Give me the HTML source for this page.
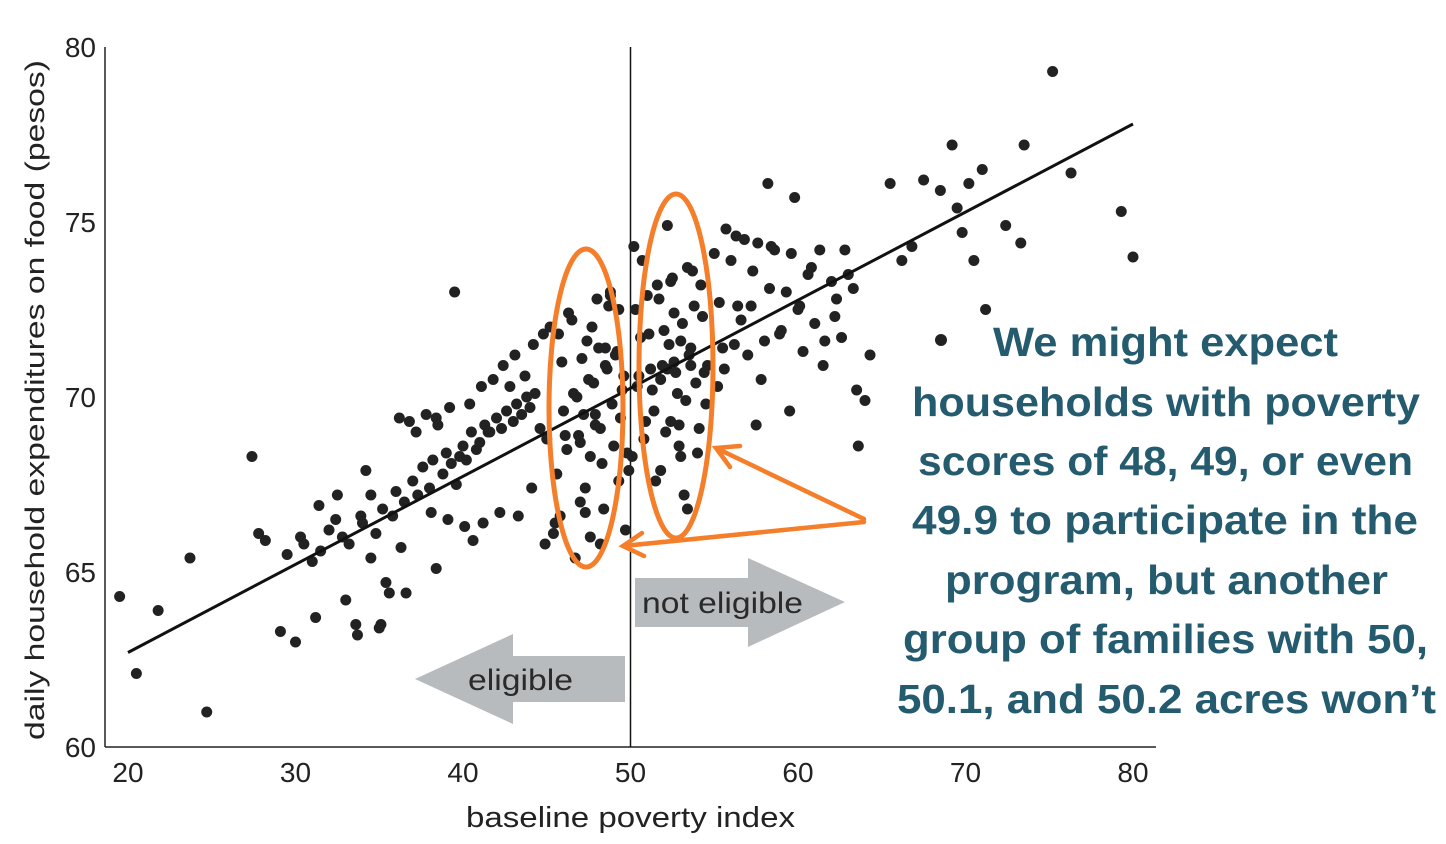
<!DOCTYPE html>
<html><head><meta charset="utf-8">
<style>
html,body{margin:0;padding:0;background:#fff;}
svg{display:block;font-family:"Liberation Sans",sans-serif;}
</style></head>
<body>
<svg id="chart" width="1446" height="844" viewBox="0 0 1446 844" xmlns="http://www.w3.org/2000/svg">
  <g id="axes"></g>
  <g id="points"></g>
  <g id="fit"></g>
  <g>
    <polygon points="635,578 748,578 748,558 845,602 748,647 748,627 635,627" fill="#b8bbbe"/>
    <text x="642" y="613" font-size="30" fill="#2a2a2a" textLength="161" lengthAdjust="spacingAndGlyphs">not eligible</text>
  </g>
  <g>
    <polygon points="625,656 513,656 513,634 415,679 513,724 513,702 625,702" fill="#b8bbbe"/>
    <text x="468" y="690" font-size="30" fill="#2a2a2a" textLength="105" lengthAdjust="spacingAndGlyphs">eligible</text>
  </g>
  <g fill="none" stroke="#f47e2a" stroke-width="5">
    <ellipse cx="586" cy="408" rx="37" ry="159"/>
    <ellipse cx="676" cy="366" rx="37" ry="172"/>
  </g>
  <g stroke="#f47e2a" stroke-width="4.5" fill="none" stroke-linecap="round">
    <line x1="864" y1="519" x2="716" y2="448"/>
    <polyline points="740,446 716,448 730,467"/>
    <line x1="864" y1="522" x2="623" y2="546"/>
    <polyline points="642,533 623,546 644,556"/>
  </g>
  <g fill="#245b6e" font-weight="bold" font-size="41">
    <circle cx="941" cy="340" r="6" fill="#222"/>
    <text x="993" y="356" textLength="345" lengthAdjust="spacingAndGlyphs">We might expect</text>
    <text x="912" y="416" textLength="508" lengthAdjust="spacingAndGlyphs">households with poverty</text>
    <text x="918" y="475" textLength="495" lengthAdjust="spacingAndGlyphs">scores of 48, 49, or even</text>
    <text x="912" y="534" textLength="506" lengthAdjust="spacingAndGlyphs">49.9 to participate in the</text>
    <text x="945" y="594" textLength="443" lengthAdjust="spacingAndGlyphs">program, but another</text>
    <text x="903" y="653" textLength="525" lengthAdjust="spacingAndGlyphs">group of families with 50,</text>
    <text x="897" y="713" textLength="539" lengthAdjust="spacingAndGlyphs">50.1, and 50.2 acres won’t</text>
  </g>
</svg>
<script>
const xTicks = [20,30,40,50,60,70,80];
const yTicks = [60,65,70,75,80];
const fitStart = [20, 62.7];
const fitEnd = [80, 77.8];
const cutoff = 50;
const px = [19.5,20.5,21.8,23.7,24.7,27.4,27.8,28.2,29.1,30,30.3,31,31.2,31.4,32.4,32.5,33,33.6,33.7,34.5,35,35.1,35.4,35.6,36.3,36.6,38.4,39.5,38.4,33.9,34.2,34.5,
29.5,30.5,31.5,32,32.8,33.2,34,34.8,35.2,35.8,36,36.5,37,37.3,37.6,38,38.2,38.8,39,39.3,39.6,40,40.2,40.5,40.8,41,41.3,41.6,42,42.3,42.6,43,43.2,43.5,43.8,44,44.3,44.6,45,
36.2,36.8,37.2,37.8,38.5,39.2,39.8,40.4,41.1,41.8,42.4,43.1,43.7,44.2,44.8,45.2,45.5,45.8,
38.1,39.1,40.1,41.2,42.2,43.3,44.1,44.9,45.4,40.6,41.5,42.8,
45.6,45.9,46.2,46.5,46.8,47,47.2,47.4,47.6,47.8,48,48.2,48.4,48.6,48.8,49,49.2,49.4,49.6,49.8,
45.7,46,46.3,46.6,46.9,47.1,47.3,47.5,47.7,47.9,48.1,48.3,48.5,48.7,48.9,49.1,49.3,49.5,49.7,49.9,
46.1,46.7,47.3,47.6,48.2,48.8,49.3,47,47.9,48.5,
50.1,50.3,50.5,50.7,50.9,51.1,51.3,51.5,51.7,51.9,52.1,52.3,52.5,52.7,52.9,53.1,53.3,53.5,53.7,53.9,54.1,54.3,54.5,
50.2,50.4,50.6,50.8,51,51.2,51.4,51.6,51.8,52,52.2,52.4,52.6,52.8,53,53.2,53.4,53.6,53.8,54,54.2,54.4,54.6,
52.2,52.6,53,53.4,51.8,52.9,52.4,53.6,
55,55.3,55.6,56,56.3,56.6,57,57.3,57.6,58,58.3,58.6,59,59.3,59.6,60,60.3,60.6,61,61.3,61.6,62,62.3,62.6,63,63.3,63.6,64,
55.2,55.7,56.2,56.8,57.2,57.8,58.4,58.9,59.5,60.1,60.8,61.5,62.2,62.8,63.5,64.3,55.5,56.4,57.5,58.2,59.8,
65.5,66.2,66.8,67.5,68.5,69.2,69.5,69.8,70.2,70.5,71,71.2,73.5,73.3,72.4,75.2,76.3,79.3,80,69.5,66.5];
const py = [64.3,62.1,63.9,65.4,61,68.3,66.1,65.9,63.3,63,66,65.3,63.7,66.9,66.5,67.2,64.2,63.5,63.2,65.4,63.4,63.5,64.7,64.4,65.7,64.4,65.1,73,69.4,66.6,67.9,67.2,
65.5,65.8,65.6,66.2,66,65.8,66.4,66.1,66.8,66.6,67.3,67,67.6,67.2,68,67.4,68.2,67.8,68.4,68.1,67.5,68.6,68.2,69,68.5,68.7,69.2,69,69.4,69.1,69.6,69.3,69.8,69.5,70,69.7,70.1,
69.1,68.8,69.4,69.3,69,69.5,69.2,69.7,68.3,69.8,70.3,70.5,70.9,71.2,70.6,71.5,71.8,72,
66.4,66.6,66.7,66.5,66.3,66.4,66.7,66.6,67.4,65.8,66.1,65.9,
69,70.3,67.8,71,68.5,72.2,70,67,69.5,71.6,68.3,70.4,72.8,69.1,66.8,70.8,73,68.6,71.3,69.4,
70.6,68.4,71.8,69.6,72.4,70.1,68.9,71.1,67.4,70.5,72,69.2,71.4,68.1,70.9,72.6,69.8,71.2,67.6,70.2,
66.2,67.9,68.9,65.4,66.7,66,65.8,72.9,72.5,68.7,
69.5,71.4,68.3,72.5,70.6,73.9,69.3,71.8,70.2,67.6,72.8,70.9,69,71.5,73.4,70.7,68.6,72.1,69.9,71.2,73.6,70.4,69.1,
72.3,69.8,74.3,70.3,71.7,68.8,72.9,70.8,69.6,73.2,70.5,71.9,74.9,69.3,72.4,70.1,71.6,67.2,73.7,70.9,72.6,68.4,73.2,
70.7,70.9,70.8,71,68.3,66.8,67.9,69.2,
73.3,71.4,74.1,72.7,70.8,73.9,74.6,72.2,71.2,73.6,74.4,71.6,73.1,74.2,71.9,73,74.1,72.5,71.3,73.5,72.1,74.2,71.6,73.3,72.8,71.7,73.5,73.1,
68.6,69.9,70.3,74.8,71.5,74.5,72.6,70.5,74.3,71.8,69.6,72.6,73.7,70.9,72.3,74.2,70.2,71.2,71.4,72.6,69.2,
76.1,75.7,76.1,73.9,74.3,76.2,75.9,77.2,75.4,74.7,76.1,73.9,76.5,72.5,77.2,74.4,74.9,79.3,76.4,75.3,74];

const X0=128, X1=1133, Y0=747, Y1=47;
const sx = v => X0 + (v-20)*(X1-X0)/60;
const sy = v => Y0 - (v-60)*(Y0-Y1)/20;
const NS="http://www.w3.org/2000/svg";
function mk(tag, attrs, parent){const e=document.createElementNS(NS,tag);for(const k in attrs)e.setAttribute(k,attrs[k]);parent.appendChild(e);return e;}

const axes=document.getElementById('axes');
let el=mk('line',{x1:105,y1:47,x2:105,y2:747,stroke:'#222','stroke-width':1.5},axes);


el=mk('line',{x1:105,y1:747,x2:1156,y2:747,stroke:'#222','stroke-width':1.5},axes);


el=mk('line',{x1:sx(cutoff),y1:47,x2:sx(cutoff),y2:747,stroke:'#111','stroke-width':1.5},axes);


xTicks.forEach(t=>{
  const tx=mk('text',{x:sx(t),y:782,'text-anchor':'middle','font-size':28,fill:'#222'},axes);
  tx.textContent=t;
  
  
});
yTicks.forEach(t=>{
  const tx=mk('text',{x:96,y:sy(t)+10,'text-anchor':'end','font-size':28,fill:'#222'},axes);
  tx.textContent=t;
  
  
});
el=mk('text',{x:466,y:827,'font-size':29,fill:'#222',textLength:329,lengthAdjust:'spacingAndGlyphs'},axes);
el.textContent='baseline poverty index';


el=mk('text',{x:0,y:0,'text-anchor':'middle','font-size':27,fill:'#222',transform:'translate(44,400) rotate(-90)',textLength:680,lengthAdjust:'spacingAndGlyphs'},axes);
el.textContent='daily household expenditures on food (pesos)';



const pts=document.getElementById('points');
const n=Math.min(px.length,py.length);
for(let i=0;i<n;i++){
  const c=mk('circle',{cx:sx(px[i]),cy:sy(py[i]),r:5.5,fill:'#222'},pts);
  
  
}
const fit=document.getElementById('fit');
el=mk('line',{x1:sx(fitStart[0]),y1:sy(fitStart[1]),x2:sx(fitEnd[0]),y2:sy(fitEnd[1]),stroke:'#111','stroke-width':3},fit);


</script>
</body></html>
